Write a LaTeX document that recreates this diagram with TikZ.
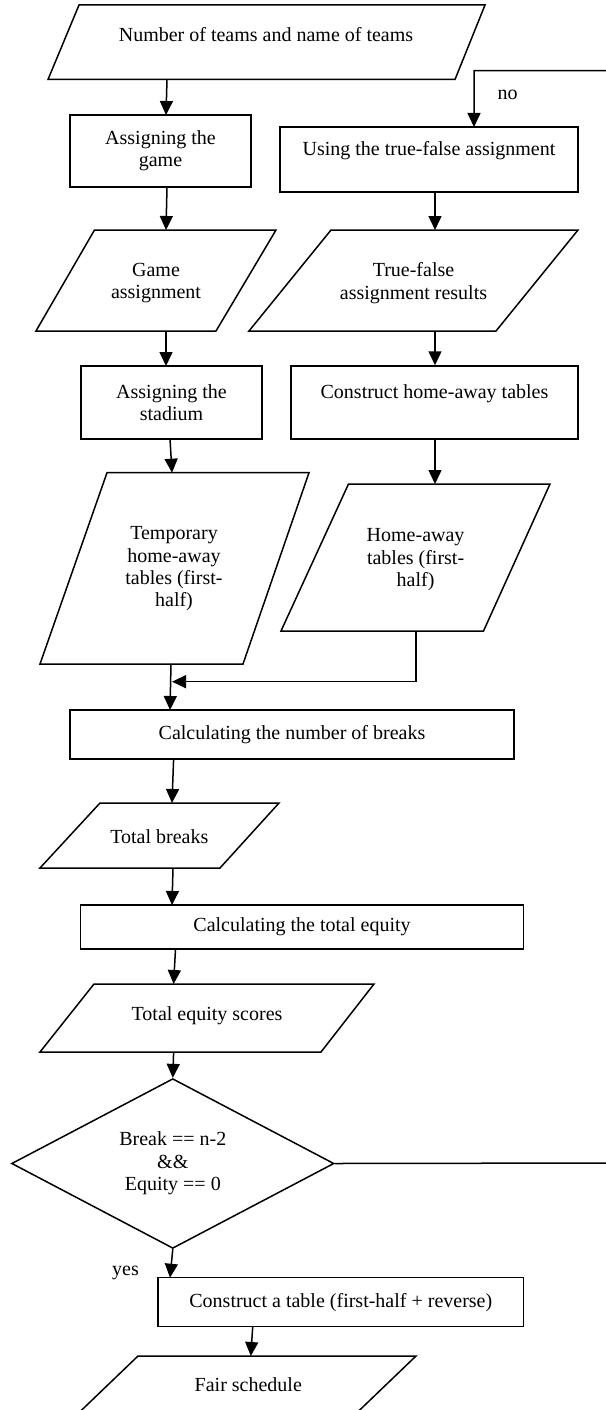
\documentclass[tikz,border=0pt]{standalone}
\usepackage{fontspec}
\setmainfont{Liberation Serif}
\usetikzlibrary{shapes.geometric,arrows.meta}
\begin{document}
\begin{tikzpicture}[x=1pt,y=-1pt,
  every node/.style={font=\fontsize{20}{22.3}\selectfont, inner sep=0pt, align=center},
  stepbox/.style={draw, line width=1.5pt, rectangle},
  ioshape/.style={draw, line width=1.5pt},
  decision/.style={draw, line width=1.5pt, diamond},
  arr/.style={-{Triangle[length=14pt,width=13pt]}, line width=1.5pt},
  conn/.style={line width=1.5pt}
]
\useasboundingbox (0,0) rectangle (605,1410);

% ---------- parallelogram outlines ----------
\draw[ioshape] (79,5) -- (485,5) -- (455,79.5) -- (48,79.5) -- cycle;
\draw[ioshape] (94.5,230) -- (276,230) -- (216,331) -- (36,331) -- cycle;
\draw[ioshape] (331,230) -- (578,230) -- (496,331) -- (249,331) -- cycle;
\draw[ioshape] (107,472.7) -- (309,472.7) -- (243,664) -- (40,664) -- cycle;
\draw[ioshape] (348.5,484) -- (550,484) -- (483.5,631) -- (281,631) -- cycle;
\draw[ioshape] (100,803) -- (279,803) -- (220,868) -- (40,868) -- cycle;
\draw[ioshape] (94,984) -- (374,984) -- (321,1052) -- (40,1052) -- cycle;
\draw[ioshape] (138,1356) -- (416,1356) -- (349.3,1420) -- (71.3,1420) -- cycle;

% ---------- texts of parallelograms ----------
\node (t1) at (266,35) {Number of teams and name of teams};
\node (t2) at (156,283) {Game\\assignment};
\node (t4) at (413.5,283) {True-false\\assignment results};
\node (t3) at (174,569) {Temporary\\home-away\\tables (first-\\half)};
\node (t5) at (415.6,559.7) {Home-away\\tables (first-\\half)};
\node (t6) at (159.3,836.7) {Total breaks};
\node (t7) at (207,1016) {Total equity scores};
\node (t8) at (248.3,1385) {Fair schedule};

% ---------- process boxes ----------
\node[stepbox, minimum width=181pt, minimum height=72pt] (b1) at (160.5,151) {Assigning the\\game};
\node[stepbox, minimum width=298pt, minimum height=65pt] (ub) at (429,159.5) {Using the true-false assignment\\\mbox{}};
\node[stepbox, minimum width=181pt, minimum height=73pt] (b2) at (171.5,402.5) {Assigning the\\stadium};
\node[stepbox, minimum width=287pt, minimum height=73pt] (cb) at (434.5,402.5) {Construct home-away tables\\\mbox{}};
\node[stepbox, minimum width=444pt, minimum height=49pt] (brk) at (292,734.5) {Calculating the number of breaks};
\node[stepbox, minimum width=443pt, minimum height=44pt] (eq) at (302,927) {Calculating the total equity};
\node[stepbox, minimum width=365.6pt, minimum height=49pt] (tab) at (340.8,1302.2) {Construct a table (first-half + reverse)};

% ---------- decision ----------
\node[decision, minimum width=322.4pt, minimum height=161pt] (dia) at (172.8,1163.5) {Break == n-2\\\&\&\\Equity == 0};

% ---------- labels ----------
\node (yes) at (125.5,1273) {yes};
\node (no) at (507.5,95) {no};

% ---------- connector end points on parallelograms ----------
\coordinate (p1s) at (167,79.5);
\coordinate (p2n) at (166,230);
\coordinate (p2s) at (166,331);
\coordinate (p4n) at (435,230);
\coordinate (p4s) at (435,331);
\coordinate (p3n) at (172,472.7);
\coordinate (p3s) at (171,664);
\coordinate (p5n) at (435,484);
\coordinate (p5s) at (416,631);
\coordinate (join) at (172,681.7);
\coordinate (p6n) at (172,803);
\coordinate (p6s) at (173,868);
\coordinate (p7n) at (173.6,984);
\coordinate (p7s) at (173.6,1052);
\coordinate (p8n) at (250.8,1356);
\coordinate (noin) at (474,127);

% ---------- connectors ----------
\draw[arr] (p1s) -- (166,115);
\draw[arr] (167,187) -- (p2n);
\draw[arr] (p2s) -- (166,366);
\draw[arr] (170,439) -- (p3n);
\draw[arr] (p3s) -- (170,710);
\draw[arr] (p5s) -- (416,681.7) -- (join);
\draw[arr] (ub.south -| p4n) -- (p4n);
\draw[arr] (p4s) -- (p4s |- cb.north);
\draw[arr] (cb.south -| p5n) -- (p5n);
\draw[arr] (173.6,759) -- (p6n);
\draw[arr] (p6s) -- (172,905);
\draw[arr] (175.5,949) -- (p7n);
\draw[arr] (p7s) -- (dia.north);
\draw[arr] (dia.south) -- (170,1277.7);
\draw[arr] (252.7,1326.7) -- (p8n);
\draw[arr] (dia.east) -- (612,1163) -- (612,70.7) -- (474,70.7) -- (noin);
\end{tikzpicture}
\end{document}
